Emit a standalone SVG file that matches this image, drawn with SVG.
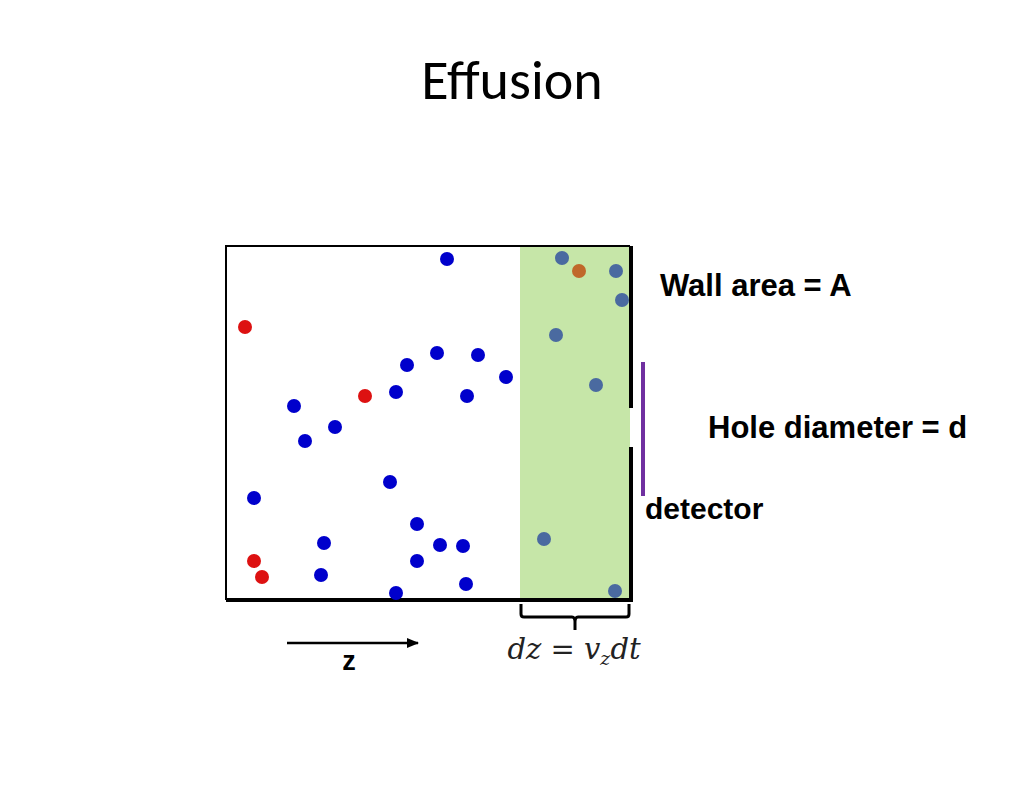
<svg xmlns="http://www.w3.org/2000/svg" width="1024" height="791" viewBox="0 0 1024 791">
<style>
.b{fill:#0000cc}.r{fill:#dd1111}.g{fill:#4a6aa0}.o{fill:#c0682a}
.lbl{font-family:"Liberation Sans",Arial,sans-serif;font-weight:bold;font-size:27px;fill:#000}
</style>
<defs><marker id="ah" markerWidth="12" markerHeight="10" refX="11" refY="5" orient="auto" markerUnits="userSpaceOnUse"><path d="M0,0 L12,5 L0,10 z" fill="#000"/></marker></defs>
<rect width="1024" height="791" fill="#fff"/>
<text x="512" y="99" text-anchor="middle" font-family="Calibri,'Liberation Sans',sans-serif" font-size="56" fill="#000">Effusion</text>
<g id="box">
<rect x="520" y="246" width="110" height="354" fill="#c6e6a8"/>
<path d="M226,600 V246 H630" fill="none" stroke="#000" stroke-width="2"/>
<line x1="226" y1="600" x2="633" y2="600" stroke="#000" stroke-width="4"/>
<line x1="631" y1="246" x2="631" y2="408" stroke="#000" stroke-width="4"/>
<line x1="631" y1="447" x2="631" y2="602" stroke="#000" stroke-width="4"/>
</g>
<g id="particles">
<circle class="b" cx="447" cy="259" r="7"/><circle class="r" cx="245" cy="327" r="7"/>
<circle class="b" cx="407" cy="365" r="7"/><circle class="b" cx="437" cy="353" r="7"/>
<circle class="b" cx="478" cy="355" r="7"/><circle class="b" cx="506" cy="377" r="7"/>
<circle class="b" cx="396" cy="392" r="7"/><circle class="r" cx="365" cy="396" r="7"/>
<circle class="b" cx="467" cy="396" r="7"/><circle class="b" cx="294" cy="406" r="7"/>
<circle class="b" cx="335" cy="427" r="7"/><circle class="b" cx="305" cy="441" r="7"/>
<circle class="b" cx="390" cy="482" r="7"/><circle class="b" cx="254" cy="498" r="7"/>
<circle class="b" cx="417" cy="524" r="7"/><circle class="b" cx="324" cy="543" r="7"/>
<circle class="b" cx="440" cy="545" r="7"/><circle class="b" cx="463" cy="546" r="7"/>
<circle class="r" cx="254" cy="561" r="7"/><circle class="b" cx="417" cy="561" r="7"/>
<circle class="r" cx="262" cy="577" r="7"/><circle class="b" cx="321" cy="575" r="7"/>
<circle class="b" cx="466" cy="584" r="7"/><circle class="b" cx="396" cy="593" r="7"/>
<circle class="g" cx="562" cy="258" r="7"/><circle class="o" cx="579" cy="271" r="7"/>
<circle class="g" cx="616" cy="271" r="7"/><circle class="g" cx="622" cy="300" r="7"/>
<circle class="g" cx="556" cy="335" r="7"/><circle class="g" cx="596" cy="385" r="7"/>
<circle class="g" cx="544" cy="539" r="7"/><circle class="g" cx="615" cy="591" r="7"/>
</g>
<g id="detector">
<line x1="643" y1="362" x2="643" y2="496" stroke="#7030a0" stroke-width="4"/>
<text class="lbl" x="645" y="519" style="font-size:30px">detector</text>
</g>
<text class="lbl" x="660" y="296" style="font-size:31px">Wall area = A</text>
<text class="lbl" x="708" y="438" style="font-size:31px">Hole diameter = d</text>
<g id="connectors">
<path d="M521,604 V614 Q521,617 524,617 H572 Q575,617 575,622 V630 M575,622 Q575,617 578,617 H626 Q629,617 629,614 V604" fill="none" stroke="#000" stroke-width="3"/>
<line x1="287" y1="643" x2="418" y2="643" stroke="#000" stroke-width="2.5" marker-end="url(#ah)"/>
</g>
<text class="lbl" x="349" y="670" text-anchor="middle">z</text>
<text x="574" y="659" text-anchor="middle" font-family="'DejaVu Serif','Liberation Serif',serif" font-style="italic" font-size="29" fill="#222">dz = v<tspan font-size="19" dy="6">z</tspan><tspan dy="-6">dt</tspan></text>
</svg>
